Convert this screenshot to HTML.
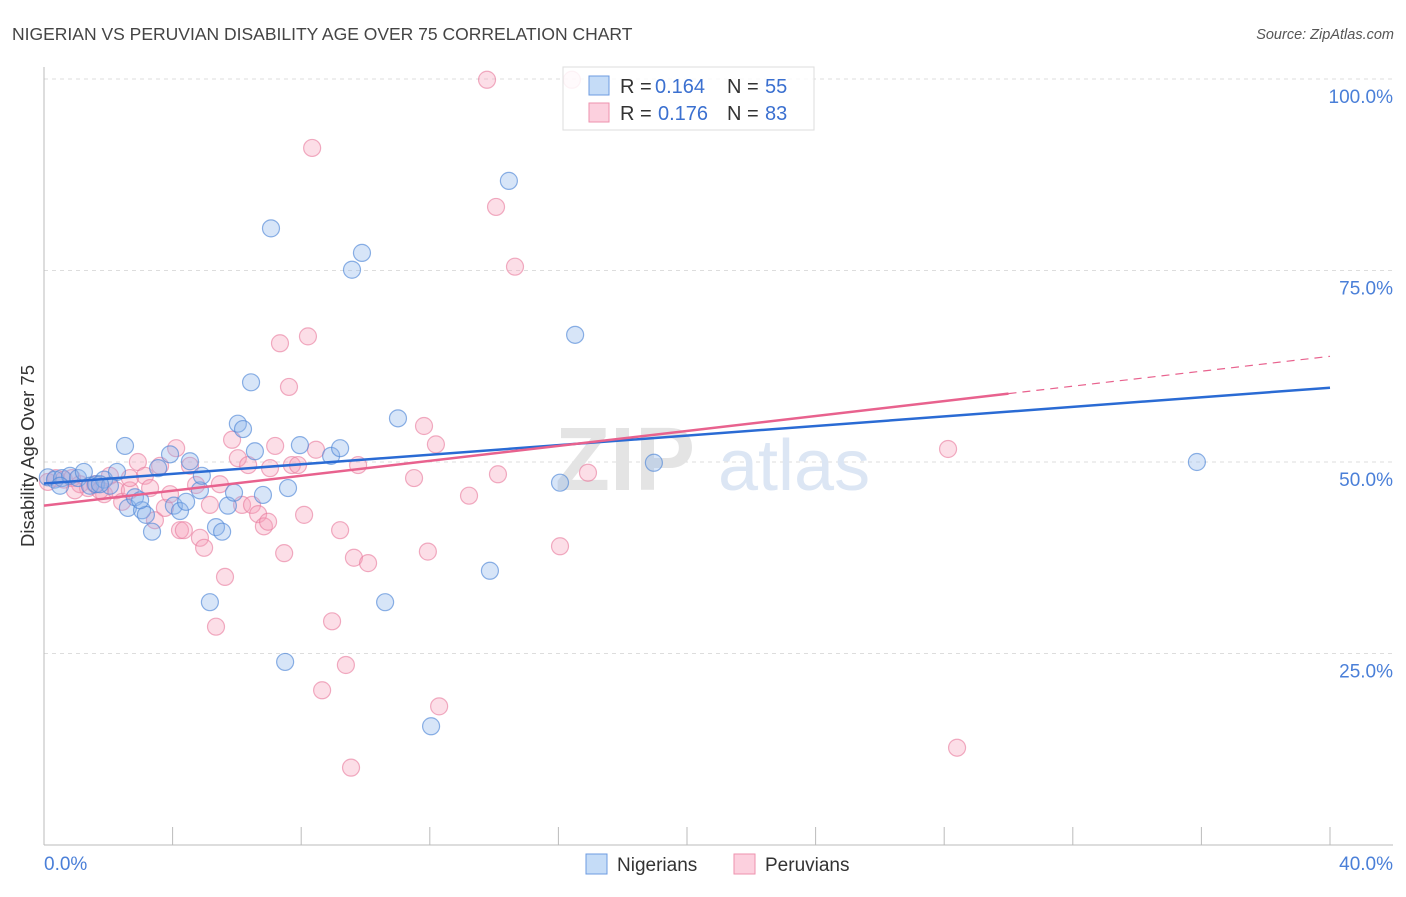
<!DOCTYPE html>
<html><head><meta charset="utf-8"><style>
body{margin:0;background:#fff;font-family:"Liberation Sans",sans-serif}
svg text{font-family:"Liberation Sans",sans-serif}
</style></head><body>
<svg id="chart" width="1406" height="892" viewBox="0 0 1406 892" xmlns="http://www.w3.org/2000/svg">
<text x="12" y="40" font-size="17.5" fill="#444">NIGERIAN VS PERUVIAN DISABILITY AGE OVER 75 CORRELATION CHART</text>
<text x="1394" y="39" font-size="14.5" fill="#555" font-style="italic" text-anchor="end">Source: ZipAtlas.com</text>
<g id="grid"></g>
<g id="axes"></g>
<text x="555" y="490" font-size="90" fill="#e4e4e4" font-family="Liberation Serif" font-weight="bold">ZIP</text>
<text x="718" y="490" font-size="72" fill="#dce6f4">atlas</text>
<g id="pts-pink"></g>
<g id="pts-blue"></g>
<g id="lines"></g>
<text transform="translate(34,456) rotate(-90)" font-size="18.5" fill="#333" text-anchor="middle">Disability Age Over 75</text>
<g>
<rect x="563" y="67" width="251" height="63" fill="#fff" fill-opacity="0.85" stroke="#ddd"/>
<rect x="589" y="76" width="20" height="19" fill="#c5dcf7" stroke="#6d9be0"/>
<rect x="589" y="103" width="20" height="19" fill="#fcd0de" stroke="#ee92ae"/>
<text x="620" y="93" font-size="20" fill="#333">R =</text>
<text x="655" y="93" font-size="20" fill="#3b70d0">0.164</text>
<text x="727" y="93" font-size="20" fill="#333">N =</text>
<text x="765" y="93" font-size="20" fill="#3b70d0">55</text>
<text x="620" y="120" font-size="20" fill="#333">R =</text>
<text x="658" y="120" font-size="20" fill="#3b70d0">0.176</text>
<text x="727" y="120" font-size="20" fill="#333">N =</text>
<text x="765" y="120" font-size="20" fill="#3b70d0">83</text>
</g>
<g>
<rect x="586" y="854" width="21" height="20" fill="#c5dcf7" stroke="#6d9be0"/>
<text x="617" y="871" font-size="19" fill="#333">Nigerians</text>
<rect x="734" y="854" width="21" height="20" fill="#fcd0de" stroke="#ee92ae"/>
<text x="765" y="871" font-size="19" fill="#333">Peruvians</text>
</g>
</svg>
<script>
const yTicks=[25,50,75,100];
const yTickLabels=["25.0%","50.0%","75.0%","100.0%"];
const xTicks=[0,4,8,12,16,20,24,28,32,36,40];
const nigX=[0.12,0.34,0.56,0.81,1.06,1.24,1.43,1.62,1.87,2.05,2.27,2.52,2.61,2.83,3.05,3.17,3.36,3.55,3.92,4.04,4.23,4.42,4.54,4.85,4.91,5.16,5.35,5.54,5.72,5.91,6.03,6.19,6.44,6.56,6.81,7.06,7.50,7.59,7.96,8.93,9.21,9.58,9.89,10.61,11.01,12.04,13.87,14.46,16.05,16.52,18.97,35.86,1.74,0.5,2.99];
const nigY=[48.0,47.7,47.9,48.2,47.9,48.7,46.9,47.1,47.7,46.9,48.7,52.1,44.0,45.4,43.7,43.1,40.9,49.2,51.0,44.3,43.6,44.8,50.1,46.3,48.2,31.7,41.5,40.9,44.3,46.0,55.0,54.3,60.4,51.4,45.7,80.5,23.9,46.6,52.2,50.8,51.8,75.1,77.3,31.7,55.7,15.5,35.8,86.7,47.3,66.6,49.9,50.0,47.1,46.9,45.0];
const perX=[0.12,0.37,0.62,0.87,1.12,1.37,1.59,1.87,2.05,2.24,2.43,2.67,2.92,3.14,3.30,3.45,3.61,3.76,3.92,4.11,4.23,4.35,4.54,4.73,4.85,4.98,5.16,5.35,5.47,5.63,5.85,6.03,6.16,6.35,6.47,6.66,6.84,6.97,7.03,7.19,7.34,7.47,7.62,7.71,7.90,8.09,8.21,8.34,8.46,8.65,8.96,9.21,9.39,9.64,9.77,10.08,9.55,11.82,11.94,12.19,11.51,12.29,13.22,13.78,14.06,14.12,14.65,16.05,16.42,16.92,28.12,28.40,2.67,1.74,0.96];
const perY=[47.4,47.9,47.7,47.9,47.1,46.6,47.1,45.8,48.2,46.3,44.8,46.3,50.0,48.2,46.6,42.4,49.5,44.0,45.8,51.8,41.1,41.1,49.5,47.0,40.1,38.8,44.4,28.5,47.1,35.0,52.9,50.5,44.4,49.6,44.4,43.2,41.6,42.2,49.2,52.1,65.5,38.1,59.8,49.6,49.6,43.1,66.4,91.0,51.6,20.2,29.2,41.1,23.5,37.5,49.6,36.8,10.1,54.7,38.3,52.3,47.9,18.1,45.6,99.9,83.3,48.4,75.5,39.0,99.9,48.6,51.7,12.7,47.9,46.3,46.3];
const nigTrend=[47.2,59.7];
const perTrend=[44.3,63.8];
const perSolidEnd=30;
const NS="http://www.w3.org/2000/svg";
const X=v=>44+v/40*1286, Y=v=>845-v*7.66;
function mk(t,a,p){const e=document.createElementNS(NS,t);for(const k in a)e.setAttribute(k,a[k]);p.appendChild(e);return e;}
const grid=document.getElementById('grid'),axes=document.getElementById('axes');
yTicks.forEach((t,i)=>{
 const l=mk('line',{x1:44,x2:1393,y1:Y(t),y2:Y(t),stroke:'#ddd','stroke-dasharray':'4,4'},grid);
 
 
 const tx=mk('text',{x:1393,y:Y(t)+24,'font-size':19,fill:'#4a7fd8','text-anchor':'end'},axes);
 tx.textContent=yTickLabels[i];
 
 
});
mk('line',{x1:44,x2:44,y1:67,y2:845,stroke:'#bbb'},axes);
mk('line',{x1:44,x2:1393,y1:845,y2:845,stroke:'#bbb'},axes);
xTicks.forEach(t=>{const l=mk('line',{x1:X(t),x2:X(t),y1:827,y2:845,stroke:'#bbb'},axes);
 
 });
let t0=mk('text',{x:44,y:870,'font-size':19,fill:'#4a7fd8'},axes);t0.textContent='0.0%';


let t1=mk('text',{x:1393,y:870,'font-size':19,fill:'#4a7fd8','text-anchor':'end'},axes);t1.textContent='40.0%';


const pb=document.getElementById('pts-blue'),pp=document.getElementById('pts-pink');
perX.forEach((x,i)=>{const c=mk('circle',{cx:X(x),cy:Y(perY[i]),r:8.5,fill:'rgba(246,160,185,0.35)',stroke:'rgba(232,120,155,0.6)','stroke-width':1.2},pp);
 
 });
nigX.forEach((x,i)=>{const c=mk('circle',{cx:X(x),cy:Y(nigY[i]),r:8.5,fill:'rgba(140,180,235,0.35)',stroke:'rgba(80,135,215,0.65)','stroke-width':1.2},pb);
 
 });
const ln=document.getElementById('lines');
const pAt=x=>perTrend[0]+(perTrend[1]-perTrend[0])*x/40;
let a=mk('line',{x1:X(0),y1:Y(nigTrend[0]),x2:X(40),y2:Y(nigTrend[1]),stroke:'#2a6bd4','stroke-width':2.5},ln);


let b=mk('line',{x1:X(0),y1:Y(pAt(0)),x2:X(perSolidEnd),y2:Y(pAt(perSolidEnd)),stroke:'#e8628e','stroke-width':2.5},ln);


let c=mk('line',{x1:X(perSolidEnd),y1:Y(pAt(perSolidEnd)),x2:X(40),y2:Y(pAt(40)),stroke:'#e8628e','stroke-width':1.2,'stroke-dasharray':'8,6'},ln);


</script>
</body></html>
